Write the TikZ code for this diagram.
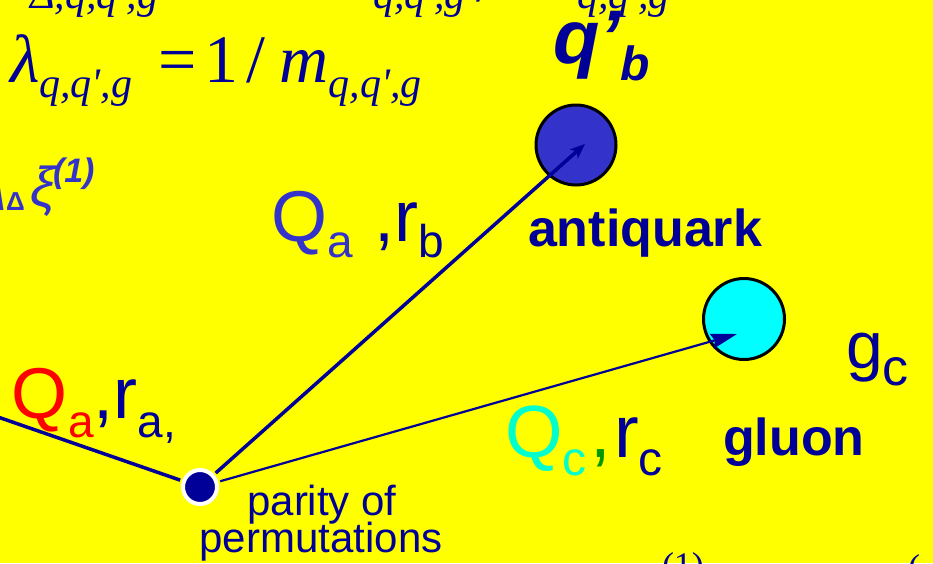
\documentclass[tikz,border=0pt]{standalone}
\usepackage{fontspec}
\setmainfont{Liberation Sans}
\newfontfamily\slidemath{Liberation Serif}
\usetikzlibrary{arrows.meta}
\definecolor{slideyellow}{HTML}{FFFF00}
\definecolor{navy}{HTML}{000099}
\definecolor{midblue}{HTML}{3333CC}
\definecolor{aquaq}{HTML}{00FFCC}
\definecolor{gluonfill}{HTML}{00FFFF}
\definecolor{commagreen}{HTML}{009900}
\newcommand{\fsz}[1]{\fontsize{#1}{#1}\selectfont}

\begin{document}
\begin{tikzpicture}[x=1pt, y=-1pt,
  lbl/.style={inner sep=0pt, outer sep=0pt, anchor=base west, text=navy},
  particle/.style={circle, draw=black, line width=3pt, inner sep=0pt, minimum size=80pt},
  vertex/.style={circle, fill=navy, draw=white, line width=4pt, inner sep=0pt, minimum size=34pt},
  fermion/.style={draw=navy, line width=3.5pt},
  gline/.style={draw=navy, line width=2.2pt}]

\path[use as bounding box, fill=slideyellow] (0,0) rectangle (933,563);
\clip (0,0) rectangle (933,563);

% formula line cut off at the top
\node[lbl] (topsuba) at (30,8) {\slidemath\itshape\fsz{42}Δ,q,q\textquotesingle,g};
\node[lbl] (topsubb) at (373,8) {\slidemath\itshape\fsz{42}q,q\textquotesingle,g};
\node[lbl] (topslash) at (476,1) {\slidemath\fsz{66}/};
\node[lbl] (topsubc) at (577,8) {\slidemath\itshape\fsz{42}q,q\textquotesingle,g};

% lambda = 1/m
\node[lbl] (lambda) at (10,82) {\slidemath\fsz{68}\itshape λ\raisebox{-15pt}{\fsz{42}q,q\textquotesingle,g}\hspace{26pt}\upshape=\hspace{8pt}1\hspace{8pt}/\hspace{14pt}\itshape m\raisebox{-15pt}{\fsz{42}q,q\textquotesingle,g}};

% left fragment
\node[lbl, text=midblue] (xilam) at (-24,210) {\bfseries\itshape\fsz{58}λ};
\node[lbl, text=midblue] (xidelta) at (6,210) {\bfseries\fsz{26}Δ};
\node[lbl, text=midblue] (xi) at (30,206) {\itshape\fsz{56}ξ};
\node[lbl, text=midblue] (xisup) at (53,182) {\bfseries\itshape\fsz{34}(1)};

% particles
\node[particle, fill=midblue] (aq) at (576,145) {};
\node[particle, fill=gluonfill, minimum size=81pt] (gl) at (744,319) {};
\node[vertex] (v) at (200,487) {};

\coordinate (aqtip) at (585,144);
\coordinate (gltip) at (737,334);
\coordinate (lend) at (-5,416);

\draw[fermion, shorten >=2pt] (lend) -- (v);
\draw[fermion, shorten <=2pt, -{Stealth[length=15pt,width=12pt,inset=4pt]}] (v) -- (aqtip);
\draw[gline, shorten <=2pt, -{Stealth[length=26pt,width=15pt,inset=3pt]}] (v) -- (gltip);

% labels
\node[lbl] (qb) at (553,63) {\bfseries\itshape\fsz{76}q’\raisebox{-17pt}{\fsz{48}b}};
\node[lbl] (antiq) at (528,246) {\bfseries\fsz{52}antiquark};
\node[lbl] (gluon) at (723,455) {\bfseries\fsz{52}gluon};
\node[lbl] (gc) at (846,368) {\fsz{66}g\raisebox{-17pt}{\fsz{52}c}};

\node[lbl] (qarb) at (271,241) {\fsz{72}{\color{midblue}Q\raisebox{-16pt}{\fsz{46}a}}\hspace{22pt},r\raisebox{-16pt}{\fsz{46}b}};
\node[lbl] (qara) at (12,418) {\fsz{72}{\color{red}Q\raisebox{-19pt}{\fsz{46}a}},r\raisebox{-19pt}{\fsz{46}a,}};
\node[lbl] (qcrc) at (505,457) {\fsz{74}{\color{aquaq}Q\raisebox{-18pt}{\fsz{48}c}}\hspace{4pt}{\color{commagreen},}\hspace{3pt}r\raisebox{-18pt}{\fsz{48}c}};

\node[lbl, anchor=base] (parity) at (322,515) {\fsz{42}parity of};
\node[lbl, anchor=base] (perm) at (321,552) {\fsz{42}permutations};

% formula line cut off at the bottom
\node[lbl] (botone) at (662,577) {\slidemath\fsz{36}(1)};
\node[lbl] (botpar) at (908,579) {\slidemath\fsz{36}(};
\end{tikzpicture}
\end{document}
